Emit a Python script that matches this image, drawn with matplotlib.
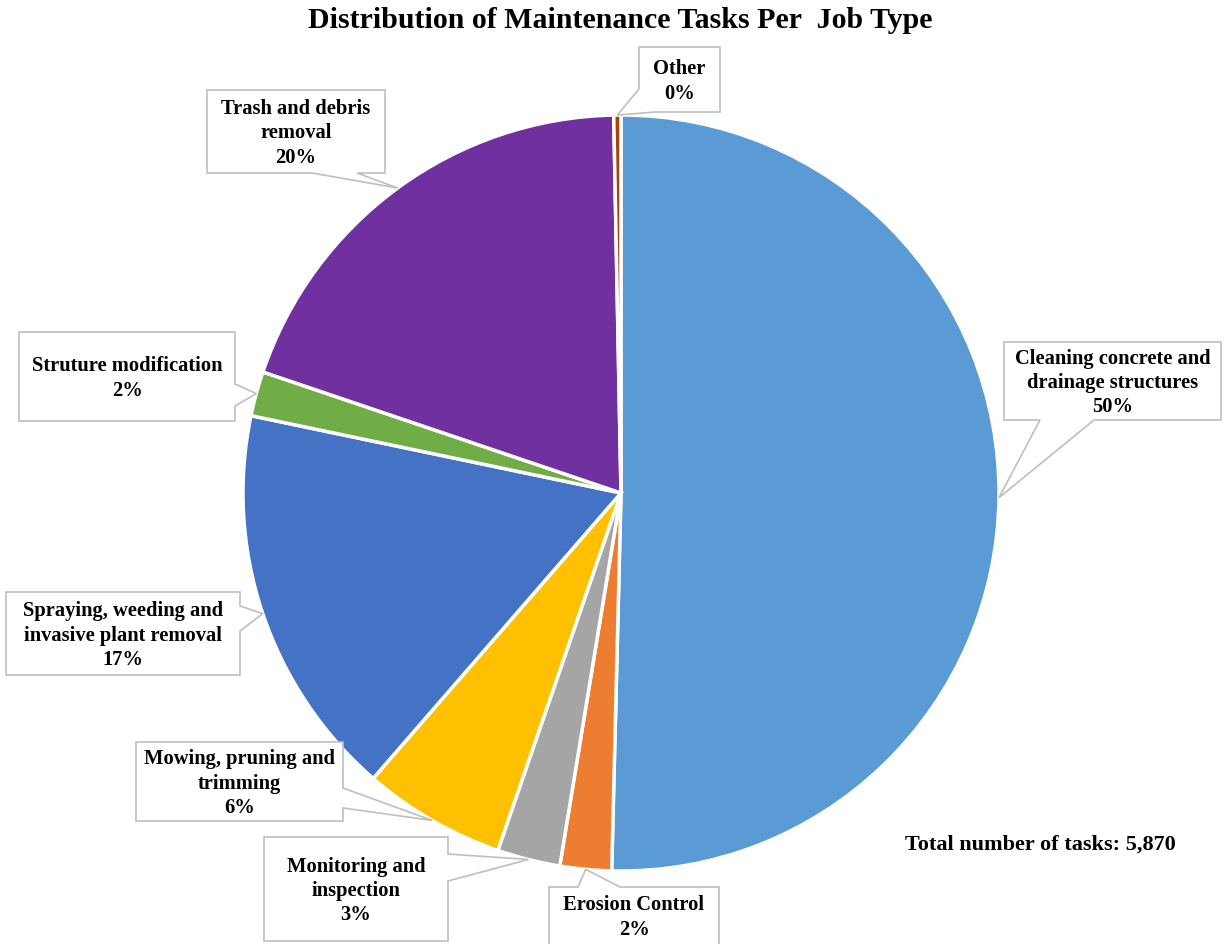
import matplotlib
matplotlib.use("Agg")
import matplotlib.pyplot as plt
from matplotlib.patches import Polygon
import numpy as np

# task counts per job type (total 5,870)
job_types = ["Cleaning concrete and\ndrainage structures", "Erosion Control",
             "Monitoring and\ninspection", "Mowing, pruning and\ntrimming",
             "Spraying, weeding and\ninvasive plant removal", "Struture modification",
             "Trash and debris\nremoval", "Other"]
task_counts = [2958, 129, 158, 358, 992, 112, 1145, 18]
slice_colors = ["#5B9BD5", "#ED7D31", "#A5A5A5", "#FFC000",
                "#4472C4", "#70AD47", "#7030A0", "#9E480E"]
total_tasks = 5870

# callout layout in pixel coords: box (x0, y0, x1, y1), side of the pointer, pointer base
callouts = [
    ((1004, 343, 1221, 421), "bottom", (1040, 1094)),
    ((549, 888, 719, 948), "top", (578, 620)),
    ((264, 838, 448, 942), "right", (855, 882)),
    ((136, 743, 343, 822), "right", (789, 809)),
    ((6, 593, 240, 676), "right", (607, 632)),
    ((19, 333, 235, 422), "right", (385, 407)),
    ((207, 91, 385, 174), "bottom", (312, 357)),
    ((639, 48, 720, 113), "corner", (655, 90)),
]

W, H = 1225, 945
cx, cy, R = 621, 494, 378
font = ["Liberation Serif", "DejaVu Serif"]


def callout_poly(box, side, base, tip):
    x0, y0, x1, y1 = box
    b0, b1 = base
    pts = [(x0, y0)]
    if side == "top":
        pts += [(b0, y0), tip, (b1, y0)]
    pts += [(x1, y0)]
    if side == "right":
        pts += [(x1, b0), tip, (x1, b1)]
    pts += [(x1, y1)]
    if side == "bottom":
        pts += [(b1, y1), tip, (b0, y1)]
    if side == "corner":
        pts += [(b0, y1), tip, (x0, b1)]
    else:
        pts += [(x0, y1)]
    return pts


fig = plt.figure(figsize=(W / 100, H / 100), dpi=100)
ax = fig.add_axes([0, 0, 1, 1])

wedges, _ = ax.pie(task_counts, colors=slice_colors, startangle=-90,
                   counterclock=True, center=(cx, cy), radius=R,
                   wedgeprops=dict(edgecolor="white", linewidth=2.5))
ax.set_xlim(0, W)
ax.set_ylim(H, 0)
ax.set_aspect("equal")
ax.axis("off")

for i, w in enumerate(wedges):
    mid = np.deg2rad((w.theta1 + w.theta2) / 2)
    tip = (cx + R * np.cos(mid), cy + R * np.sin(mid))
    box, side, base = callouts[i]
    poly = Polygon(callout_poly(box, side, base, tip), closed=True,
                   facecolor="white", edgecolor="#BFBFBF", linewidth=1.2, zorder=3)
    ax.add_patch(poly)
    pct = round(100 * task_counts[i] / total_tasks)
    ax.text((box[0] + box[2]) / 2, (box[1] + min(box[3], 945)) / 2 + 1,
            "%s\n%d%%" % (job_types[i], pct), ha="center", va="center",
            family=font, weight="bold", fontsize=14.8, linespacing=1.28, zorder=4)

ax.text(1040, 845, "Total number of tasks: 5,870", ha="center", va="center",
        family=font, weight="bold", fontsize=16)
ax.text(620, 21, "Distribution of Maintenance Tasks Per  Job Type", ha="center",
        va="center", family=font, weight="bold", fontsize=21.5)

fig.savefig("out.png", dpi=100)
